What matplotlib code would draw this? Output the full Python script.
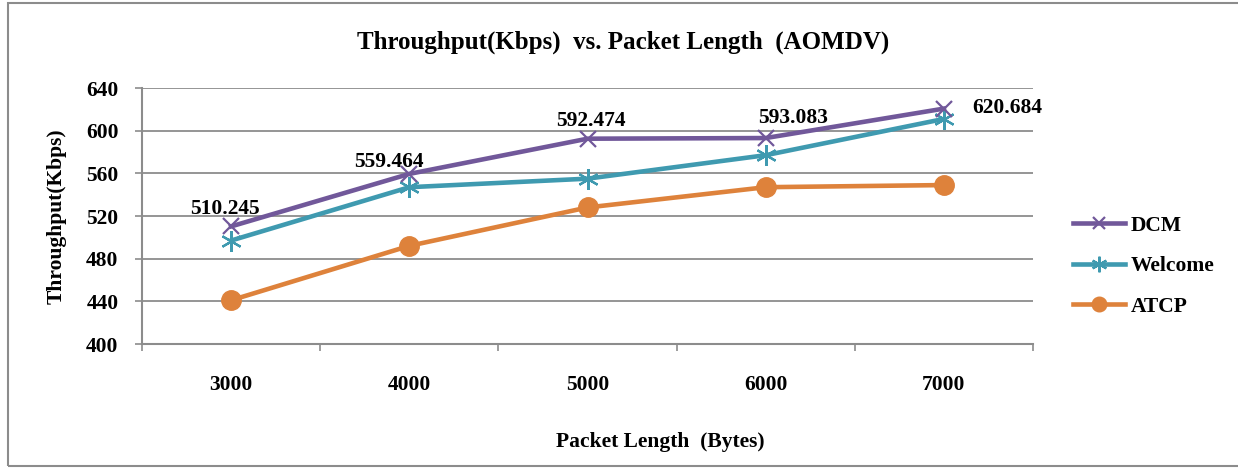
import matplotlib
matplotlib.use("Agg")
import matplotlib.pyplot as plt
from matplotlib.patches import Rectangle

plt.rcParams['font.family'] = ['Liberation Serif', 'DejaVu Serif']
plt.rcParams['font.weight'] = 'bold'

packet_lengths = ['3000', '4000', '5000', '6000', '7000']
dcm = [510.245, 559.464, 592.474, 593.083, 620.684]
welcome = [497, 547, 555, 577, 611]
atcp = [441, 492, 528, 547, 549]
y_ticks = [400, 440, 480, 520, 560, 600, 640]

# pixel offsets of the DCM value labels from their points (last one is left-aligned)
label_offsets = [(-6, 17), (-20, 12), (3, 18), (27, 20), (28, 1)]

grid_col = '#8c8c8c'
fs = 15.5

fig = plt.figure(figsize=(12.38, 4.68), dpi=100)
fig.patch.set_facecolor('white')
ax = fig.add_axes([142 / 1238, 1 - 344 / 468, (1033 - 142) / 1238, (344 - 88) / 468])

x = list(range(len(packet_lengths)))
ax.plot(x, dcm, color='#71589a', lw=3.3, marker='x', ms=12, mew=1.6, label='DCM', zorder=4)
ax.plot(x, welcome, color='#3f9ab0', lw=3.3, marker=(6, 2, 0), ms=15, mew=1.6, label='Welcome', zorder=3)
ax.plot(x, atcp, color='#de823b', lw=3.3, marker='o', ms=14, label='ATCP', zorder=2)

for i, (xi, v, (dx, dy)) in enumerate(zip(x, dcm, label_offsets)):
    ha = 'left' if i == len(dcm) - 1 else 'center'
    ax.annotate(f'{v:.3f}', (xi, v), xytext=(dx * 0.72, dy * 0.72), textcoords='offset points',
                ha=ha, va='center', fontsize=fs, fontweight='bold', zorder=6)

ax.set_xlim(-0.5, len(packet_lengths) - 0.5)
ax.set_ylim(400, 640)
ax.set_yticks(y_ticks)
ax.set_yticklabels([str(t) for t in y_ticks])
ax.set_xticks(x)
ax.set_xticklabels(packet_lengths)
ax.set_xticks([i - 0.5 for i in range(len(packet_lengths) + 1)], minor=True)
ax.tick_params(axis='x', which='major', length=0, pad=22, labelsize=fs)
ax.tick_params(axis='x', which='minor', length=5, width=1.2, color=grid_col)
ax.tick_params(axis='y', length=5, width=1.2, color=grid_col, pad=12, labelsize=fs)

ax.grid(axis='y', color=grid_col, lw=1.3)
ax.set_axisbelow(True)
for s in ['top', 'right']:
    ax.spines[s].set_visible(False)
for s in ['left', 'bottom']:
    ax.spines[s].set_color(grid_col)
    ax.spines[s].set_linewidth(1.5)

fig.text(623 / 1238, 1 - 42 / 468, 'Throughput(Kbps)  vs. Packet Length  (AOMDV)',
         ha='center', va='center', fontsize=18, fontweight='bold')
fig.text(660 / 1238, 1 - 442 / 468, 'Packet Length  (Bytes)',
         ha='center', va='center', fontsize=fs, fontweight='bold')
fig.text(57 / 1238, 1 - 216 / 468, 'Throughput(Kbps)', rotation=90,
         ha='center', va='center', fontsize=fs, fontweight='bold')

fig.legend(loc='center left', bbox_to_anchor=(1073 / 1238, 1 - 266 / 468), frameon=False,
           fontsize=fs, handlelength=2.4, handletextpad=0.3, labelspacing=0.95,
           markerscale=0.75, borderpad=0, borderaxespad=0)

fig.patches.append(Rectangle((8 / 1238, 2 / 468), 1.0, 1 - 5 / 468, transform=fig.transFigure,
                             fill=False, edgecolor=grid_col, lw=1.5, figure=fig))

fig.savefig('out.png', dpi=100)
